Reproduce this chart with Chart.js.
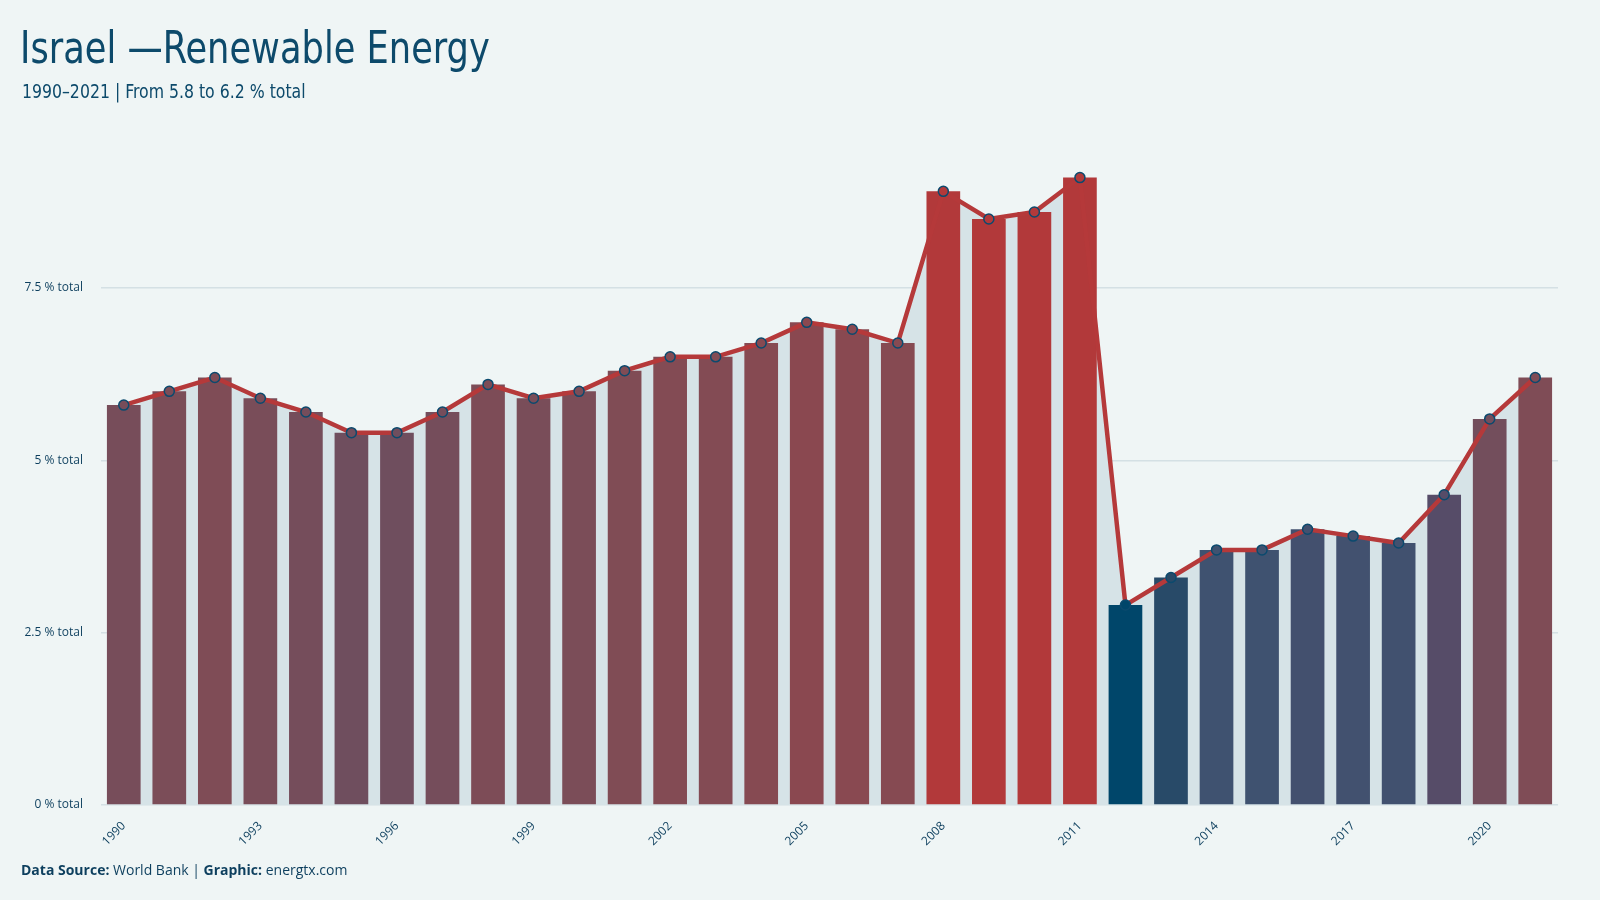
<!DOCTYPE html>
<html>
<head>
<meta charset="utf-8">
<script src="https://cdn.jsdelivr.net/npm/chart.js@4"></script>
<style>
  html, body { margin: 0; padding: 0; background: #eff5f5; }
  #wrap { position: relative; width: 1600px; height: 900px; background: #eff5f5; }
  #title { position: absolute; left: 20px; top: 22px; font-family: "DejaVu Sans Condensed", "DejaVu Sans"; font-stretch: condensed; font-size: 44px; color: #0d4a6b; white-space: nowrap; transform: scaleX(0.89); transform-origin: left top; }
  #sub { position: absolute; left: 22px; top: 80px; font-family: "DejaVu Sans Condensed", "DejaVu Sans"; font-stretch: condensed; font-size: 19px; color: #0d4a6b; white-space: nowrap; transform: scaleX(0.92); transform-origin: left top; }
  #foot { position: absolute; left: 21px; top: 860px; font-family: "Open Sans"; font-size: 14px; color: #0d3f5e; white-space: nowrap; }
  canvas { position: absolute; left: 0; top: 0; }
</style>
</head>
<body>
<div id="wrap">
  <canvas id="chart" width="1600" height="900"></canvas>
  <div id="title">Israel —Renewable Energy</div>
  <div id="sub">1990–2021 | From 5.8 to 6.2 % total</div>
  <div id="foot"><b>Data Source:</b> World Bank | <b>Graphic:</b> energtx.com</div>
</div>
<script>
// Renewable energy share, % of total
const years = ['1990','1991','1992','1993','1994','1995','1996','1997','1998','1999','2000',
  '2001','2002','2003','2004','2005','2006','2007','2008','2009','2010','2011','2012','2013',
  '2014','2015','2016','2017','2018','2019','2020','2021'];
const share = [5.8, 6.0, 6.2, 5.9, 5.7, 5.4, 5.4, 5.7, 6.1, 5.9, 6.0, 6.3, 6.5, 6.5, 6.7, 7.0,
  6.9, 6.7, 8.9, 8.5, 8.6, 9.1, 2.9, 3.3, 3.7, 3.7, 4.0, 3.9, 3.8, 4.5, 5.6, 6.2];
const yTicks = [0, 2.5, 5, 7.5];

// colour ramp by value (blue low -> red high)
const stops = [
  [2.9, [0, 70, 106]], [3.3, [40, 74, 104]], [3.6, [62, 82, 112]], [4.0, [67, 80, 110]],
  [4.5, [86, 76, 104]], [5.4, [111, 78, 94]], [6.2, [127, 76, 86]], [7.0, [138, 72, 80]],
  [8.4, [178, 57, 58]]
];
function rampColor(v) {
  if (v <= stops[0][0]) return 'rgb(' + stops[0][1].join(',') + ')';
  for (let i = 1; i < stops.length; i++) {
    if (v <= stops[i][0]) {
      const a = stops[i - 1], b = stops[i];
      const t = (v - a[0]) / (b[0] - a[0]);
      const c = a[1].map((x, k) => Math.round(x + (b[1][k] - x) * t));
      return 'rgb(' + c.join(',') + ')';
    }
  }
  return 'rgb(' + stops[stops.length - 1][1].join(',') + ')';
}
const barColors = share.map(rampColor);

const tickFont = { family: 'Open Sans', size: 12 };

new Chart(document.getElementById('chart'), {
  data: {
    labels: years,
    datasets: [
      {
        type: 'line', data: share, order: 3,
        fill: 'origin', backgroundColor: '#d6e3e7',
        borderWidth: 0, pointRadius: 0
      },
      {
        type: 'bar', data: share, order: 2,
        backgroundColor: barColors,
        barPercentage: 0.74, categoryPercentage: 1
      },
      {
        type: 'line', data: share, order: 1,
        borderColor: '#b5393a', borderWidth: 4.5, fill: false,
        pointRadius: 5, pointBorderWidth: 1.5,
        pointBorderColor: '#0b4a6e', pointBackgroundColor: barColors
      }
    ]
  },
  options: {
    responsive: false,
    animation: false,
    layout: { padding: { top: 150, left: 21, right: 42, bottom: 45 } },
    plugins: { legend: { display: false }, tooltip: { enabled: false } },
    scales: {
      x: {
        grid: { display: false },
        border: { display: false },
        afterFit: s => { s.height = 50; },
        ticks: {
          autoSkip: false, maxRotation: 45, minRotation: 45,
          color: '#0d3f5e', font: tickFont, padding: 6,
          callback: (v, i) => (i % 3 === 0 ? years[i] : null)
        }
      },
      y: {
        min: 0, max: 9.5,
        afterFit: s => { s.width = 80; },
        afterBuildTicks: s => { s.ticks = yTicks.map(v => ({ value: v })); },
        grid: { color: '#d4e0e4', lineWidth: 1.5, drawTicks: false },
        border: { display: false },
        ticks: {
          color: '#0d3f5e', font: tickFont, padding: 18,
          callback: v => v + ' % total'
        }
      }
    }
  }
});
</script>
</body>
</html>
